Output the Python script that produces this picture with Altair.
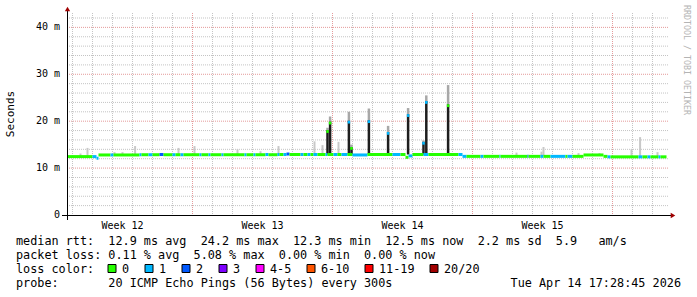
import altair as alt
import pandas as pd

NB = "\u00a0"
FONT = "DejaVu Sans Mono"

# ---------------- data ----------------
# median rtt segments: start (days from left edge), value (ms), loss category
seg_t = [0.00, 1.25, 1.45, 1.55, 2.15, 2.30, 3.60, 3.70, 4.05, 4.25, 4.60, 4.80, 5.25, 5.40,
         5.65, 5.80, 6.60, 6.70, 7.05, 7.15, 7.70, 7.80, 8.85, 8.95, 9.30, 9.40, 9.90, 10.05,
         10.50, 10.60, 10.80, 10.95, 11.10, 11.65, 11.80, 12.00, 12.15, 12.30, 12.50, 12.90,
         13.00, 13.30, 13.50, 13.70, 14.00, 14.25, 15.00, 16.25, 16.65, 16.90, 17.05, 17.25,
         17.80, 18.05, 19.55, 19.75, 19.95, 20.65, 20.80, 21.60, 21.65, 23.00, 23.05, 23.65,
         23.80, 24.15, 24.90, 25.00, 25.25, 25.80, 26.80, 27.00, 27.15, 28.55, 28.75, 29.00,
         29.15, 29.55, 29.65]
seg_v = [12.45, 12.45, 12.1, 12.8, 12.8, 12.8, 12.85, 12.85, 12.85, 12.85, 12.9, 12.85, 12.85, 12.85,
         12.85, 12.85, 12.85, 12.85, 12.85, 12.85, 12.85, 12.85, 12.85, 12.85, 12.85, 12.85, 12.9, 12.85,
         12.9, 12.9, 12.9, 13.0, 12.9, 12.9, 12.9, 12.9, 12.9, 12.9, 12.9, 12.9,
         12.9, 12.9, 12.9, 12.9, 12.9, 12.8, 12.9, 12.9, 12.9, 12.3, 12.6, 12.9,
         12.9, 12.9, 12.9, 12.5, 12.5, 12.5, 12.5, 12.5, 12.5, 12.5, 12.5, 12.5,
         12.5, 12.5, 12.5, 12.5, 12.5, 12.8, 12.5, 12.4, 12.4, 12.4, 12.4, 12.4,
         12.4, 12.4, 12.4]
seg_loss = ["0", "1", "1", "0", "1", "0", "1", "0", "1", "0", "2", "0", "1", "0",
            "1", "0", "1", "0", "1", "0", "1", "0", "1", "0", "1", "0", "1", "0",
            "1", "0", "1", "2", "0", "1", "0", "1", "0", "1", "0", "1",
            "0", "1", "0", "1", "0", "1", "0", "1", "0", "0", "1", "0",
            "1", "0", "1", "1", "0", "1", "0", "1", "0", "2", "0", "1",
            "0", "1", "0", "1", "0", "0", "0", "1", "0", "1", "0", "1",
            "0", "1", "0"]
seg_last_end = 29.95

# light smoke (gray bars above the median)
smoke_t = [0.65, 1.0, 2.35, 2.75, 3.38, 5.55, 6.35, 8.5, 9.65, 10.55, 12.35, 12.75, 13.55,
           22.45, 23.7, 23.8, 25.55, 26.6, 28.2, 28.63, 29.5]
smoke_top = [13.1, 14.3, 13.4, 13.4, 14.7, 14.3, 14.7, 14.0, 13.6, 14.7, 15.7, 14.9, 15.6,
             13.3, 13.5, 14.5, 13.2, 13.2, 14.0, 16.6, 13.4]

# latency spikes
spk_t = [13.0, 13.13, 14.07, 14.2, 15.07, 16.03, 17.03, 17.8, 17.94, 19.03]
spk_top = [18.1, 19.9, 20.1, 14.5, 20.2, 17.7, 21.5, 15.6, 24.3, 23.6]
spk_smoke = [18.6, 21.0, 22.0, 15.0, 22.7, 19.0, 22.8, 15.9, 25.5, 27.7]
spk_loss = ["0", "0", "1", "0", "1", "1", "1", "1", "1", "0"]

# axes
y_ticks = [0, 10, 20, 30, 40]
y_labels = ["0", "10 m", "20 m", "30 m", "40 m"]
week_pos = [2.75, 9.75, 16.75, 23.75]
week_labels = ["Week 12", "Week 13", "Week 14", "Week 15"]
week_bounds = [6.25, 13.25, 20.25, 27.25]

legend_items = ["0", "1", "2", "3", "4-5", "6-10", "11-19", "20/20"]
legend_colors = ["#26ff00", "#00b8ff", "#0059ff", "#7e00ff", "#ff00ff", "#ff5500", "#ff0000", "#a10000"]

row1 = "median rtt:  12.9 ms avg  24.2 ms max  12.3 ms min  12.5 ms now  2.2 ms sd  5.9   am/s"
row2 = "packet loss: 0.11 % avg  5.08 % max  0.00 % min  0.00 % now"
row3 = "loss color:"
row4 = "probe:       20 ICMP Echo Pings (56 Bytes) every 300s"
date_txt = "Tue Apr 14 17:28:45 2026"

# ---------------- layout ----------------
W, H = 602, 201
PL, PT = 67, 14

xs = alt.Scale(domain=[-0.025, 30.075], nice=False, zero=False)
ys = alt.Scale(domain=[0, 42.85], nice=False, zero=True)
cs = alt.Scale(domain=legend_items, range=legend_colors)

seg_df = pd.DataFrame({"t": seg_t, "t2": seg_t[1:] + [seg_last_end], "v": seg_v, "loss": seg_loss})
smoke_df = pd.DataFrame({"t": smoke_t, "top": smoke_top})
spk_df = pd.DataFrame({"t": spk_t, "top": spk_top, "smoke": spk_smoke, "loss": spk_loss})

minor_x = [0.25 + k for k in range(30) if (0.25 + k) not in week_bounds]
minor_y = [v for v in range(2, 43, 2) if v % 10 != 0]
major_y = [10, 20, 30, 40]

one = pd.DataFrame({"a": [0]})

layers = []

# grid
layers.append(alt.Chart(pd.DataFrame({"t": minor_x})).mark_rule(color="#c4c4c4", strokeDash=[1, 1], strokeWidth=1)
              .encode(x=alt.X("t:Q", scale=xs, axis=None), y=alt.value(-1), y2=alt.value(H)))
layers.append(alt.Chart(pd.DataFrame({"v": minor_y})).mark_rule(color="#c4c4c4", strokeDash=[1, 1], strokeWidth=1)
              .encode(y=alt.Y("v:Q", scale=ys, axis=None), x=alt.value(0), x2=alt.value(W)))
layers.append(alt.Chart(pd.DataFrame({"t": week_bounds})).mark_rule(color="#e49a9a", strokeDash=[1, 1], strokeWidth=1)
              .encode(x=alt.X("t:Q", scale=xs, axis=None), y=alt.value(-1), y2=alt.value(H)))
layers.append(alt.Chart(pd.DataFrame({"v": major_y})).mark_rule(color="#e49a9a", strokeDash=[1, 1], strokeWidth=1)
              .encode(y=alt.Y("v:Q", scale=ys, axis=None), x=alt.value(0), x2=alt.value(W)))

# light smoke
layers.append(alt.Chart(smoke_df).transform_calculate(base="12.6").mark_rule(color="#c8c8c8", strokeWidth=2)
              .encode(x=alt.X("t:Q", scale=xs, axis=None),
                      y=alt.Y("base:Q", scale=ys, axis=None), y2="top:Q"))

# spike smoke (gray above spikes)
layers.append(alt.Chart(spk_df).mark_rule(color="#a8a8a8", strokeWidth=2.5)
              .encode(x=alt.X("t:Q", scale=xs, axis=None),
                      y=alt.Y("top:Q", scale=ys, axis=None), y2="smoke:Q"))
# spike black bars
layers.append(alt.Chart(spk_df).transform_calculate(base="12.9").mark_rule(color="#1e1e1e", strokeWidth=2.5)
              .encode(x=alt.X("t:Q", scale=xs, axis=None),
                      y=alt.Y("base:Q", scale=ys, axis=None), y2="top:Q"))

# median line segments
layers.append(alt.Chart(seg_df).mark_rule(strokeWidth=3)
              .encode(x=alt.X("t:Q", scale=xs, axis=None), x2="t2:Q",
                      y=alt.Y("v:Q", scale=ys, axis=None),
                      color=alt.Color("loss:N", scale=cs, legend=None)))

# spike tips
layers.append(alt.Chart(spk_df).transform_calculate(lo="datum.top - 0.6").mark_rule(strokeWidth=2.5)
              .encode(x=alt.X("t:Q", scale=xs, axis=None),
                      y=alt.Y("lo:Q", scale=ys, axis=None), y2="top:Q",
                      color=alt.Color("loss:N", scale=cs, legend=None)))

# axis lines
layers.append(alt.Chart(one).mark_rule(color="#000000", strokeWidth=1)
              .encode(x=alt.value(-5), x2=alt.value(W + 2), y=alt.value(H + 0.5)))
layers.append(alt.Chart(one).mark_rule(color="#000000", strokeWidth=1)
              .encode(x=alt.value(0.5), y=alt.value(-3), y2=alt.value(H + 5)))
# arrows
layers.append(alt.Chart(one).mark_point(shape="triangle-right", filled=True, color="#a00000", size=28, opacity=1)
              .encode(x=alt.value(W + 4), y=alt.value(H + 0.5)))
layers.append(alt.Chart(one).mark_point(shape="triangle-up", filled=True, color="#a00000", size=28, opacity=1)
              .encode(x=alt.value(0.5), y=alt.value(-5)))

# y labels
layers.append(alt.Chart(pd.DataFrame({"v": y_ticks, "lab": y_labels}))
              .mark_text(font=FONT, fontSize=10, align="right", baseline="middle", color="#000000")
              .encode(y=alt.Y("v:Q", scale=ys, axis=None), x=alt.value(-7),
                      text=alt.Text("lab:N")))
# week labels
layers.append(alt.Chart(pd.DataFrame({"t": week_pos, "lab": week_labels}))
              .mark_text(font=FONT, fontSize=10, align="center", baseline="alphabetic", color="#000000")
              .encode(x=alt.X("t:Q", scale=xs, axis=None), y=alt.value(229 - PT),
                      text=alt.Text("lab:N")))

# y title
layers.append(alt.Chart(one).mark_text(font=FONT, fontSize=11, angle=270, align="center", baseline="middle",
                                      color="#000000")
              .encode(x=alt.value(11 - PL), y=alt.value(114 - PT), text=alt.value("Seconds")))
# watermark
layers.append(alt.Chart(one).mark_text(font=FONT, fontSize=8.3, angle=90, align="left", baseline="middle",
                                      color="#b4b4b4")
              .encode(x=alt.value(686 - PL), y=alt.value(5 - PT),
                      text=alt.value("RRDTOOL / TOBI OETIKER".replace(" ", NB))))

# text rows
FS = 11.8
for txt, yb in [(row1, 245), (row2, 259), (row3, 273), (row4, 287)]:
    layers.append(alt.Chart(one).mark_text(font=FONT, fontSize=FS, align="left", baseline="alphabetic",
                                          color="#000000")
                  .encode(x=alt.value(16 - PL), y=alt.value(yb - PT), text=alt.value(txt.replace(" ", NB))))
layers.append(alt.Chart(one).mark_text(font=FONT, fontSize=FS, align="right", baseline="alphabetic",
                                      color="#000000")
              .encode(x=alt.value(681 - PL), y=alt.value(287 - PT), text=alt.value(date_txt.replace(" ", NB))))

# loss colour legend
box_x = [108, 145, 182, 219, 256, 307, 365, 430]
for lab, col, bx in zip(legend_items, legend_colors, box_x):
    layers.append(alt.Chart(one).mark_square(size=64, filled=True, color=col, stroke="#000000",
                                             strokeWidth=1, opacity=1)
                  .encode(x=alt.value(bx + 4 - PL), y=alt.value(268.5 - PT)))
    layers.append(alt.Chart(one).mark_text(font=FONT, fontSize=FS, align="left", baseline="alphabetic",
                                          color="#000000")
                  .encode(x=alt.value(bx + 14 - PL), y=alt.value(273 - PT), text=alt.value(lab)))

chart = alt.layer(*layers).properties(
    width=W, height=H, autosize="none",
    padding={"left": PL, "top": PT, "right": 697 - PL - W, "bottom": 297 - PT - H},
    background="#ffffff",
).configure_view(strokeWidth=0)

chart.save("out.html", embed_options={"renderer": "svg", "actions": False})
